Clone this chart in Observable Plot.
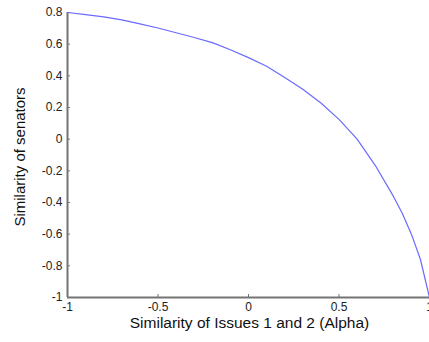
<!DOCTYPE html>
<html>
<head>
<meta charset="utf-8">
<script src="https://cdn.jsdelivr.net/npm/d3@7"></script>
<script src="https://cdn.jsdelivr.net/npm/@observablehq/plot@0.6"></script>
<style>
  html, body { margin: 0; padding: 0; background: #fff; }
  svg { display: block; }
</style>
</head>
<body>
<div id="chart"></div>
<script>
// Curve values
const alpha = [-1, -0.9, -0.8, -0.7, -0.6, -0.5, -0.4, -0.3, -0.2, -0.1, 0, 0.1, 0.2, 0.3, 0.4, 0.5, 0.6, 0.7, 0.8, 0.85, 0.9, 0.95, 1.0];
const senators = [0.8, 0.787, 0.772, 0.753, 0.728, 0.702, 0.672, 0.642, 0.61, 0.565, 0.515, 0.46, 0.39, 0.315, 0.228, 0.125, 0.0, -0.165, -0.36, -0.47, -0.6, -0.76, -1.0];
const xTicks = [-1, -0.5, 0, 0.5, 1];
const yTicks = [0.8, 0.6, 0.4, 0.2, 0, -0.2, -0.4, -0.6, -0.8, -1];
const xLabel = "Similarity of Issues 1 and 2 (Alpha)";
const yLabel = "Similarity of senators";

const data = alpha.map((a, i) => ({x: a, y: senators[i]}));
const fmt = d => String(d);
const axisColor = "#747474";

const plot = Plot.plot({
  width: 429,
  height: 342,
  marginLeft: 67,
  marginRight: 0,
  marginTop: 12,
  marginBottom: 45,
  style: {fontFamily: "Arial, 'Liberation Sans', sans-serif", background: "#fff", color: "#222"},
  x: {domain: [-1, 1]},
  y: {domain: [-1, 0.8]},
  marks: [
    // tick labels
    Plot.axisX(xTicks, {tickSize: 0, tickPadding: 5, tickFormat: fmt, fontSize: 12, label: null}),
    Plot.axisY(yTicks, {tickSize: 0, tickPadding: 5, tickFormat: fmt, fontSize: 12, label: null}),
    // inward ticks
    Plot.ruleX(xTicks, {x: d => d, insetTop: 282, stroke: axisColor, strokeWidth: 1}),
    Plot.ruleY(yTicks, {y: d => d, insetRight: 359, stroke: axisColor, strokeWidth: 1}),
    // axis lines
    Plot.ruleY([-1], {stroke: axisColor, strokeWidth: 2}),
    Plot.ruleX([-1], {stroke: axisColor, strokeWidth: 2}),
    // curve
    Plot.line(data, {x: "x", y: "y", stroke: "#6a6aff", strokeWidth: 1.2}),
    // axis titles
    Plot.text([xLabel], {frameAnchor: "bottom", dy: 30, dx: 1, fontSize: 15.5, fill: "#111"}),
    Plot.text([yLabel], {frameAnchor: "left", textAnchor: "middle", rotate: -90, dx: -47, dy: 2, fontSize: 15, fill: "#111"})
  ]
});
document.getElementById("chart").appendChild(plot);
</script>
</body>
</html>
